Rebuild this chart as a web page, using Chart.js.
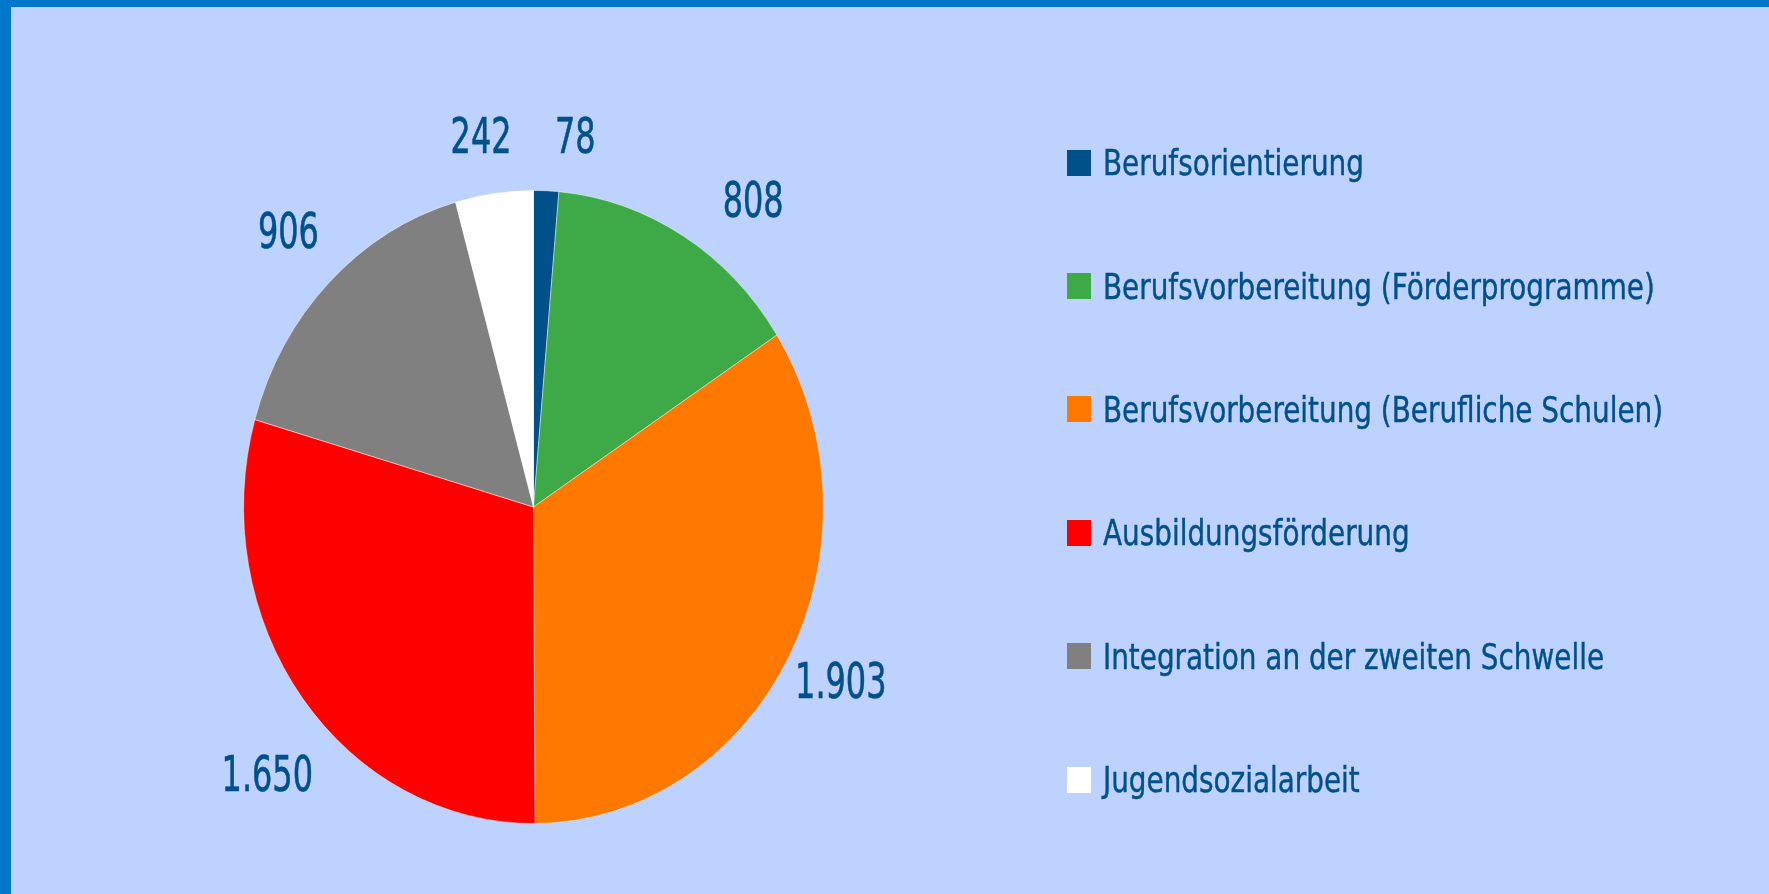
<!DOCTYPE html>
<html>
<head>
<meta charset="utf-8">
<script src="https://cdn.jsdelivr.net/npm/chart.js@4/dist/chart.umd.min.js"></script>
<style>
    html, body { margin: 0; padding: 0; }
    body {
        width: 1769px; height: 894px; overflow: hidden;
        background: #bed2ff; position: relative;
        font-family: "DejaVu Sans Condensed", "DejaVu Sans", sans-serif;
    }
    #frame {
        position: absolute; left: 0; top: 0; width: 1769px; height: 894px;
        box-sizing: border-box; border-top: 7px solid #0077c8; border-left: 11px solid #0077c8;
    }
    #pieChart { position: absolute; left: 0; top: 0; }
    #pieLegend { position: absolute; left: 1067px; top: 101px; }
    .row { height: 123.4px; display: flex; align-items: center; }
    .box { width: 24px; height: 26px; margin-right: 12px; flex: none; }
    .txt {
        color: #00508a; font-size: 36px; white-space: nowrap;
        display: inline-block; transform: scaleX(0.86); transform-origin: left center;
        -webkit-text-stroke: 0.4px #00508a;
    }
</style>
</head>
<body>
<div id="frame"></div>
<canvas id="pieChart" width="1769" height="894"></canvas>
<div id="pieLegend"></div>
<script>
const categories = [
    "Berufsorientierung",
    "Berufsvorbereitung (Förderprogramme)",
    "Berufsvorbereitung (Berufliche Schulen)",
    "Ausbildungsförderung",
    "Integration an der zweiten Schwelle",
    "Jugendsozialarbeit"
];
const values = [78, 808, 1903, 1650, 906, 242];
const colors = ["#00508a", "#3daa47", "#ff7800", "#ff0000", "#808080", "#ffffff"];

// where the value labels sit, relative to each slice (degrees / radius factor)
const labelNudge = [4.5, 7.0, -0.8, -5.5, 0.6, -1.0];
const labelRadius = [1.178, 1.229, 1.196, 1.248, 1.213, 1.183];

const squash = 0.916; // pie is a bit narrower than high

function fmt(v) {
    return String(v).replace(/\B(?=(\d{3})+(?!\d))/g, ".");
}

const ellipse = {
    id: "ellipse",
    beforeDatasetsDraw(chart) {
        const ctx = chart.ctx;
        const cx = (chart.chartArea.left + chart.chartArea.right) / 2;
        ctx.save();
        ctx.translate(cx, 0);
        ctx.scale(squash, 1);
        ctx.translate(-cx, 0);
    },
    afterDatasetsDraw(chart) {
        chart.ctx.restore();
    }
};

const valueLabels = {
    id: "valueLabels",
    afterDraw(chart) {
        const ctx = chart.ctx;
        const meta = chart.getDatasetMeta(0);
        ctx.save();
        ctx.fillStyle = "#00508a";
        ctx.strokeStyle = "#00508a";
        ctx.lineWidth = 0.6;
        ctx.font = '50px "DejaVu Sans Condensed", "DejaVu Sans", sans-serif';
        ctx.textAlign = "center";
        ctx.textBaseline = "middle";
        meta.data.forEach(function(arc, i) {
            const p = arc.getProps(["x", "y", "startAngle", "endAngle", "outerRadius"], true);
            const a = (p.startAngle + p.endAngle) / 2 + labelNudge[i] * Math.PI / 180;
            const r = p.outerRadius * labelRadius[i];
            const x = p.x + Math.cos(a) * r * squash;
            const y = p.y + Math.sin(a) * r;
            const t = fmt(chart.data.datasets[0].data[i]);
            ctx.save();
            ctx.translate(x, y);
            ctx.scale(0.71, 1);
            ctx.fillText(t, 0, 3);
            ctx.strokeText(t, 0, 3);
            ctx.restore();
        });
        ctx.restore();
    }
};

var ctx = document.getElementById("pieChart").getContext("2d");
var pieChart = new Chart(ctx, {
    type: "pie",
    data: {
        labels: categories,
        datasets: [{
            data: values,
            backgroundColor: colors,
            borderColor: "rgba(255,255,255,0.45)",
            borderWidth: 1
        }]
    },
    options: {
        responsive: false,
        animation: false,
        events: [],
        layout: {
            padding: { left: 216.5, right: 918.5, top: 190, bottom: 70 }
        },
        plugins: {
            legend: { display: false },
            tooltip: { enabled: false }
        }
    },
    plugins: [ellipse, valueLabels]
});

// html legend, built from the chart data
var legend = [];
for (var i = 0; i < pieChart.data.labels.length; i++) {
    legend.push('<div class="row">');
    legend.push('<div class="box" style="background-color: ' + pieChart.data.datasets[0].backgroundColor[i] + ';"></div>');
    legend.push('<span class="txt">' + pieChart.data.labels[i] + '</span>');
    legend.push('</div>');
}
document.getElementById("pieLegend").innerHTML = legend.join("");
</script>
</body>
</html>
